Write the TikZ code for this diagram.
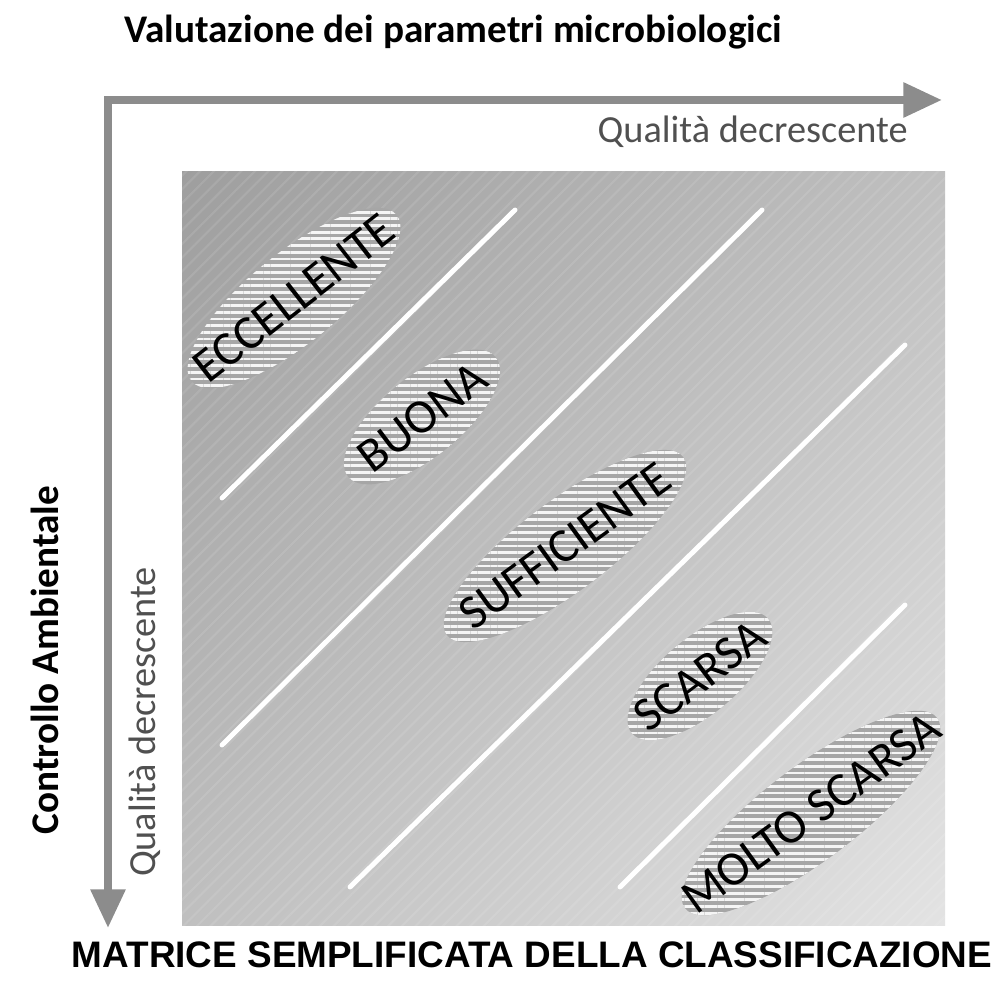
\documentclass[tikz,border=0pt]{standalone}
\usepackage{fontspec}
\setmainfont{Carlito}
\newfontfamily\capfont{Liberation Sans}
\usetikzlibrary{arrows.meta,patterns.meta,shadings,positioning}

\definecolor{axisgray}{HTML}{8C8C8C}
\definecolor{textgray}{HTML}{505050}
\definecolor{hatchgray}{HTML}{A6A6A6}

\tikzset{
  axis/.style={draw=axisgray, line width=4.5pt, line join=miter,
    {Triangle[length=22pt,width=19pt]}-{Triangle[length=22pt,width=19pt]}},
  divider/.style={draw=white, line width=2.8pt, line cap=round},
  zone/.style={pattern={Lines[angle=0,distance=3.8pt,line width=1.6pt]},
    pattern color=white!92!gray, preaction={fill=hatchgray}},
  zonelabel/.style={font=\fontsize{27.5}{30}\selectfont, inner sep=0pt},
  axislabel/.style={font=\fontsize{21.8}{26}\selectfont, text=textgray, inner sep=0pt},
  boldlabel/.style={font=\bfseries\fontsize{22.3}{26}\selectfont, inner sep=0pt}
}

\begin{document}
\begin{tikzpicture}[x=0.02cm, y=-0.02cm]
  \useasboundingbox (0,0) rectangle (1000,1000);

  % matrix background
  \shade[upper left=black!38, upper right=black!25, lower left=black!25,
    lower right=black!11] (182,172) rectangle (945,925);
  \fill[pattern={Lines[angle=45,distance=5.5pt,line width=1.2pt]},
    pattern color=white, opacity=0.1] (182,172) rectangle (945,925);

  % axes
  \coordinate (xend) at (942,100);
  \coordinate (corner) at (108,100);
  \coordinate (yend) at (108,928);
  \draw[axis] (xend) -- (corner) -- (yend);

  % class boundaries
  \draw[divider] (222,498) -- (515,210);
  \draw[divider] (222,745) -- (762,210);
  \draw[divider] (350,887) -- (905,345);
  \draw[divider] (620,887) -- (905,605);

  % classes
  \coordinate (ecc) at (294,298);
  \coordinate (buo) at (422,417);
  \coordinate (suf) at (565,546);
  \coordinate (sca) at (700,676);
  \coordinate (mol) at (811,813);

  \path[zone] (ecc) ellipse [x radius=2.64cm, y radius=0.9cm, rotate=39];
  \path[zone] (buo) ellipse [x radius=1.9cm, y radius=0.8cm, rotate=39];
  \path[zone] (suf) ellipse [x radius=2.96cm, y radius=0.9cm, rotate=37];
  \path[zone] (sca) ellipse [x radius=1.78cm, y radius=0.76cm, rotate=40];
  \path[zone] (mol) ellipse [x radius=3.16cm, y radius=0.94cm, rotate=37];

  \node[zonelabel, rotate=38] (eccl) at (ecc) {ECCELLENTE};
  \node[zonelabel, rotate=37] (buol) at (buo) {BUONA};
  \node[zonelabel, rotate=36] (sufl) at (suf) {SUFFICIENTE};
  \node[zonelabel, rotate=37] (scal) at (sca) {SCARSA};
  \node[zonelabel, rotate=36] (moll) at (mol) {MOLTO SCARSA};

  % axis titles
  \node[boldlabel, anchor=west] (title) at (124,32) {Valutazione dei parametri microbiologici};
  \node[axislabel, anchor=north east] (qx) at (908,116) {Qualità decrescente};
  \node[axislabel, rotate=90] (qy) at (145,722) {Qualità decrescente};
  \node[boldlabel, rotate=90] (ctrl) at (45,660) {Controllo Ambientale};
  \node[inner sep=0pt, font=\capfont\bfseries\fontsize{21}{25}\selectfont] (caption) at (532,955)
    {MATRICE SEMPLIFICATA DELLA CLASSIFICAZIONE};
\end{tikzpicture}
\end{document}
